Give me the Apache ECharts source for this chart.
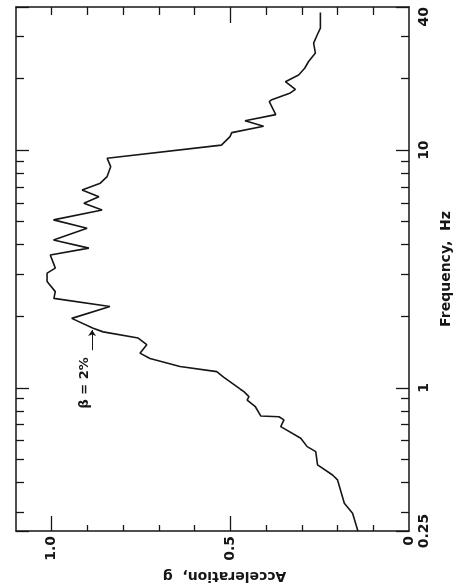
<!DOCTYPE html>
<html>
<head>
<meta charset="utf-8">
<style>
  html, body { margin: 0; padding: 0; background: #fff; }
  #chart { width: 459px; height: 588px; }
</style>
<script src="https://cdn.jsdelivr.net/npm/echarts@6.0.0/dist/echarts.min.js"></script>
</head>
<body>
<div id="chart"></div>
<script>
// 频率 Hz（由低到高）
const freq = [0.25, 0.297, 0.327, 0.41, 0.43, 0.474, 0.539, 0.566, 0.614, 0.687, 0.733, 0.756, 0.762,
  0.833, 0.889, 0.919, 0.964, 0.987, 1.11, 1.17, 1.23, 1.33, 1.40, 1.52, 1.62, 1.72, 1.78, 1.96, 2.20,
  2.38, 2.54, 2.80, 3.04, 3.19, 3.34, 3.62, 3.87, 4.19, 4.69, 5.09, 5.60, 5.98, 6.37, 6.80, 7.26, 7.74,
  8.52, 9.25, 10.5, 11.4, 11.85, 12.6, 13.3, 14.1, 16.0, 16.3, 17.4, 18.0, 19.4, 20.7, 22.1, 23.6, 25.6,
  28.2, 30.5, 32.6, 37.9]
// 加速度 g
const accel = [0.143, 0.158, 0.181, 0.200, 0.214, 0.256, 0.261, 0.285, 0.303, 0.359, 0.350, 0.364, 0.415,
  0.430, 0.453, 0.448, 0.462, 0.472, 0.519, 0.538, 0.641, 0.725, 0.753, 0.734, 0.758, 0.856, 0.884, 0.944, 0.837,
  0.994, 0.990, 1.013, 1.013, 0.990, 0.995, 1.004, 0.896, 0.995, 0.901, 0.995, 0.859, 0.910, 0.868, 0.915, 0.864, 0.845,
  0.835, 0.845, 0.525, 0.501, 0.496, 0.407, 0.459, 0.373, 0.391, 0.384, 0.332, 0.318, 0.346, 0.309, 0.292, 0.281, 0.262,
  0.267, 0.257, 0.248, 0.248]

// 刻度
const freqMinorTicks = [0.3, 0.4, 0.5, 0.6, 0.7, 0.8, 0.9, 2, 3, 4, 5, 6, 7, 8, 9, 20, 30]
const accelLabels = [0, 0.5, 1.0]
const accelMajorTicks = [0.5, 1.0]
const accelMinorTicks = [0.1, 0.2, 0.3, 0.4, 0.6, 0.7, 0.8, 0.9]
const accelTopTicks = [0.1, 0.2, 0.3, 0.4, 0.6, 0.7, 0.8, 0.9, 1.0]

// 标注 β = 2%
const noteText = 'β = 2%'
const notePos = [0.907, 1.05]
const arrowFrom = [0.887, 1.44]
const arrowTo = [0.887, 1.75]

const FREQ_MIN = 0.25
const FREQ_MAX = 40
const ACC_MAX = 1.1
const ink = '#161616'

const lineData = freq.map((f, i) => [accel[i], f])
const logMin = Math.log10(FREQ_MIN)
const logMax = Math.log10(FREQ_MAX)

const labelFont = { color: ink, fontSize: 14, fontFamily: 'DejaVu Sans', fontWeight: 'bold' }
const nameFont = { color: ink, fontSize: 14, fontFamily: 'DejaVu Sans', fontWeight: 'bold' }

const baseX = {
  type: 'value',
  inverse: true,
  min: 0,
  max: ACC_MAX,
  splitLine: { show: false },
  axisLine: { show: true, onZero: false, lineStyle: { color: ink, width: 1.5 } }
}

// 只画刻度的叠加轴
const tickAxisX = (position, values, len) => Object.assign({}, baseX, {
  position: position,
  axisLine: { show: false, onZero: false },
  axisTick: { show: true, inside: true, length: len, customValues: values, lineStyle: { color: ink, width: 1.3 } },
  axisLabel: { show: false }
})

const tickAxisY = (position, len) => ({
  type: 'value',
  position: position,
  min: logMin,
  max: logMax,
  splitLine: { show: false },
  axisLine: { show: false, onZero: false },
  axisTick: { show: true, inside: true, length: len, customValues: freqMinorTicks.map(v => Math.log10(v)), lineStyle: { color: ink, width: 1.3 } },
  axisLabel: { show: false }
})

const chart = echarts.init(document.getElementById('chart'))
const option = {
  animation: false,
  backgroundColor: '#fff',
  grid: { left: 16, right: 50, top: 7, bottom: 57, containLabel: false, outerBoundsMode: 'none' },
  xAxis: [
    Object.assign({}, baseX, {
      position: 'bottom',
      name: 'Acceleration,  g',
      nameLocation: 'middle',
      nameRotate: 180,
      nameGap: 34,
      nameTextStyle: Object.assign({ padding: [0, 24, 0, 0] }, nameFont),
      axisTick: { show: true, inside: true, length: 15, customValues: accelMajorTicks, lineStyle: { color: ink, width: 1.3 } },
      axisLabel: Object.assign({
        show: true,
        customValues: accelLabels,
        rotate: 90,
        margin: 5,
        formatter: v => (v === 0 ? '0' : v.toFixed(1))
      }, labelFont)
    }),
    tickAxisX('bottom', accelMinorTicks, 6),
    Object.assign({}, baseX, {
      position: 'top',
      axisTick: { show: true, inside: true, length: 8, customValues: accelTopTicks, lineStyle: { color: ink, width: 1.3 } },
      axisLabel: { show: false }
    }),
    tickAxisX('top', [0.5], 16)
  ],
  yAxis: [
    {
      type: 'log',
      logBase: 10,
      position: 'right',
      min: FREQ_MIN,
      max: FREQ_MAX,
      splitLine: { show: false },
      axisLine: { show: true, onZero: false, lineStyle: { color: ink, width: 1.5 } },
      axisTick: { show: true, inside: true, length: 13, lineStyle: { color: ink, width: 1.3 } },
      axisLabel: Object.assign({
        show: true,
        rotate: 90,
        margin: 8,
        showMinLabel: true,
        showMaxLabel: true,
        alignMaxLabel: 'right'
      }, labelFont),
      name: 'Frequency,  Hz',
      nameLocation: 'middle',
      nameGap: 28,
      nameTextStyle: nameFont
    },
    tickAxisY('right', 8),
    {
      type: 'log',
      logBase: 10,
      position: 'left',
      min: FREQ_MIN,
      max: FREQ_MAX,
      splitLine: { show: false },
      axisLine: { show: true, onZero: false, lineStyle: { color: ink, width: 1.5 } },
      axisTick: { show: true, inside: true, length: 13, lineStyle: { color: ink, width: 1.3 } },
      axisLabel: { show: false }
    },
    tickAxisY('left', 8)
  ],
  series: [
    {
      type: 'line',
      xAxisIndex: 0,
      yAxisIndex: 0,
      data: lineData,
      symbol: 'none',
      smooth: false,
      lineStyle: { color: ink, width: 1.6 },
      markPoint: {
        symbol: 'circle',
        symbolSize: 1,
        itemStyle: { color: 'rgba(0,0,0,0)' },
        label: Object.assign({
          show: true,
          position: 'inside',
          rotate: 90,
          formatter: noteText
        }, labelFont, { fontSize: 13 }),
        data: [{ coord: notePos }]
      },
      markLine: {
        silent: true,
        symbol: ['none', 'arrow'],
        symbolSize: 6,
        lineStyle: { color: ink, width: 1, type: 'solid' },
        label: { show: false },
        data: [[{ coord: arrowFrom }, { coord: arrowTo }]]
      }
    }
  ]
}
chart.setOption(option)
</script>
</body>
</html>
